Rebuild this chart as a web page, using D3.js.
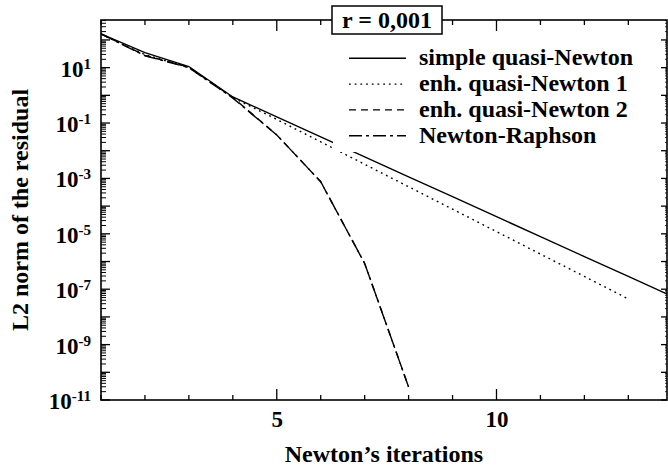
<!DOCTYPE html>
<html>
<head>
<meta charset="utf-8">
<script src="https://cdnjs.cloudflare.com/ajax/libs/d3/7.8.5/d3.min.js"></script>
<style>
  body { margin: 0; background: #fff; }
  text { font-family: "Liberation Serif", "Times New Roman", serif; font-weight: bold; fill: #000; }
</style>
</head>
<body>
<div id="chart"></div>
<script>
// iterations and residual norms (log10 of the L2 norm)
var iterSimple = [1, 2, 3, 4, 5, 6, 7, 8, 9, 10, 11, 12, 13, 14];
var logSimple = [2.22, 1.54, 1.04, -0.06, -0.78, -1.50, -2.22, -2.94, -3.66, -4.38, -5.10, -5.82, -6.54, -7.26];

var iterEnh1 = [1, 2, 3, 4, 5, 6, 7, 8, 9, 10, 11, 12, 13];
var logEnh1 = [2.21, 1.47, 1.00, -0.08, -0.87, -1.68, -2.49, -3.30, -4.11, -4.92, -5.73, -6.54, -7.35];

var iterEnh2 = [1, 2, 3, 4, 5, 6, 7, 8];
var logEnh2 = [2.22, 1.44, 1.02, -0.08, -1.43, -3.12, -6.07, -10.53];

var iterNR = [1, 2, 3, 4, 5, 6, 7, 8];
var logNR = [2.22, 1.43, 1.00, -0.10, -1.43, -3.12, -6.07, -10.53];

var seriesNames = ["simple quasi-Newton", "enh. quasi-Newton 1", "enh. quasi-Newton 2", "Newton-Raphson"];
var xTickLabels = [5, 10];
var yLabelExponents = [1, -1, -3, -5, -7, -9, -11];
var titleText = "r = 0,001";

var svgWidth = 668;
var svgHeight = 472;

var margin = { top: 20, right: 1, bottom: 72, left: 101 };
var width = svgWidth - margin.left - margin.right;
var height = svgHeight - margin.top - margin.bottom;

var svg = d3.select("#chart")
    .append("svg")
    .attr("width", svgWidth)
    .attr("height", svgHeight);

var chartGroup = svg.append("g")
    .attr("transform", `translate(${margin.left}, ${margin.top})`);

// scales
var xScale = d3.scaleLinear()
    .domain([1, 13.88])
    .range([0, width]);

var yScale = d3.scaleLog()
    .domain([1e-11, Math.pow(10, 2.72)])
    .range([height, 0]);

// tick sets
var decades = d3.range(-11, 3).map(e => Math.pow(10, e));
var minors = [];
d3.range(-11, 3).forEach(function(e) {
    for (var m = 2; m <= 9; m++) {
        var v = m * Math.pow(10, e);
        if (v < yScale.domain()[1]) minors.push(v);
    }
});
var xTicks = d3.range(1, 14);

// clip path for the data lines
svg.append("defs").append("clipPath")
    .attr("id", "plotclip")
    .append("rect")
    .attr("width", width)
    .attr("height", height);

// data lines
var line = d3.line()
    .x(d => xScale(d[0]))
    .y(d => yScale(Math.pow(10, d[1])));

var seriesData = [
    { pts: d3.zip(iterSimple, logSimple), dash: null },
    { pts: d3.zip(iterEnh1, logEnh1), dash: "1.8,3.9" },
    { pts: d3.zip(iterEnh2, logEnh2), dash: "7,5" },
    { pts: d3.zip(iterNR, logNR), dash: "13,4,3,4" }
];

var linesGroup = chartGroup.append("g").attr("clip-path", "url(#plotclip)");

linesGroup.selectAll("path")
    .data(seriesData)
    .enter()
    .append("path")
    .attr("d", d => line(d.pts))
    .attr("fill", "none")
    .attr("stroke", "#000")
    .attr("stroke-width", 1.4)
    .attr("stroke-dasharray", d => d.dash);

// legend (white backing hides the lines under it)
var legend = chartGroup.append("g");

legend.append("rect")
    .attr("x", 232)
    .attr("y", 24)
    .attr("width", 320)
    .attr("height", 108)
    .attr("fill", "#fff");

var legendRows = legend.selectAll("g.row")
    .data(seriesData)
    .enter()
    .append("g")
    .attr("class", "row")
    .attr("transform", (d, i) => `translate(0, ${38.3 + i * 25.8})`);

legendRows.append("line")
    .attr("x1", 248)
    .attr("x2", 305)
    .attr("stroke", "#000")
    .attr("stroke-width", 1.4)
    .attr("stroke-dasharray", d => d.dash);

legendRows.append("text")
    .attr("x", 318)
    .attr("y", 7)
    .attr("font-size", "24px")
    .text((d, i) => seriesNames[i]);

// axes
var bottomAxis = d3.axisBottom(xScale).tickValues(xTickLabels).tickSize(0).tickPadding(0)
    .tickFormat(d3.format("d"));

var xAxisG = chartGroup.append("g")
    .attr("transform", `translate(0, ${height})`)
    .call(bottomAxis);
xAxisG.select(".domain").remove();
xAxisG.selectAll("text")
    .attr("y", 27)
    .attr("dy", null)
    .attr("font-size", "23px")
    .attr("font-family", null);

// frame
chartGroup.append("rect")
    .attr("width", width)
    .attr("height", height)
    .attr("fill", "none")
    .attr("stroke", "#000")
    .attr("stroke-width", 1.6);

// x ticks, bottom and top
var tickGroup = chartGroup.append("g").attr("stroke", "#000").attr("stroke-width", 1.3);

xTicks.forEach(function(t) {
    var len = (t % 5 === 0) ? 11 : 5;
    tickGroup.append("line")
        .attr("x1", xScale(t)).attr("x2", xScale(t))
        .attr("y1", height).attr("y2", height - len);
    tickGroup.append("line")
        .attr("x1", xScale(t)).attr("x2", xScale(t))
        .attr("y1", 0).attr("y2", len);
});

// y ticks, left (major + minor) and right (major + tiny minor)
decades.forEach(function(v) {
    tickGroup.append("line")
        .attr("x1", 0).attr("x2", 9)
        .attr("y1", yScale(v)).attr("y2", yScale(v));
    tickGroup.append("line")
        .attr("x1", width).attr("x2", width - 6)
        .attr("y1", yScale(v)).attr("y2", yScale(v));
});

minors.forEach(function(v) {
    tickGroup.append("line")
        .attr("x1", 0).attr("x2", 5)
        .attr("y1", yScale(v)).attr("y2", yScale(v))
        .attr("stroke-width", 1);
    tickGroup.append("line")
        .attr("x1", width).attr("x2", width - 2)
        .attr("y1", yScale(v)).attr("y2", yScale(v))
        .attr("stroke-width", 0.8);
});

// y tick labels 10^n
var yLabels = chartGroup.selectAll("text.ylab")
    .data(yLabelExponents)
    .enter()
    .append("text")
    .attr("class", "ylab")
    .attr("x", -10)
    .attr("y", e => yScale(Math.pow(10, e)) + 9)
    .attr("text-anchor", "end")
    .attr("font-size", "23px");

yLabels.append("tspan").text("10");
yLabels.append("tspan")
    .attr("dy", -8)
    .attr("font-size", "15px")
    .text(e => e);

// axis titles
svg.append("text")
    .attr("x", margin.left + width / 2)
    .attr("y", 462)
    .attr("text-anchor", "middle")
    .attr("font-size", "24px")
    .text("Newton\u2019s iterations");

svg.append("text")
    .attr("transform", `translate(28, ${margin.top + height / 2}) rotate(-90)`)
    .attr("text-anchor", "middle")
    .attr("font-size", "24px")
    .text("L2 norm of the residual");

// boxed title on the top edge
svg.append("rect")
    .attr("x", 332)
    .attr("y", 6)
    .attr("width", 110)
    .attr("height", 28)
    .attr("fill", "#fff")
    .attr("stroke", "#000")
    .attr("stroke-width", 1.5);

svg.append("text")
    .attr("x", 387)
    .attr("y", 28)
    .attr("text-anchor", "middle")
    .attr("font-size", "24px")
    .text(titleText);
</script>
</body>
</html>
